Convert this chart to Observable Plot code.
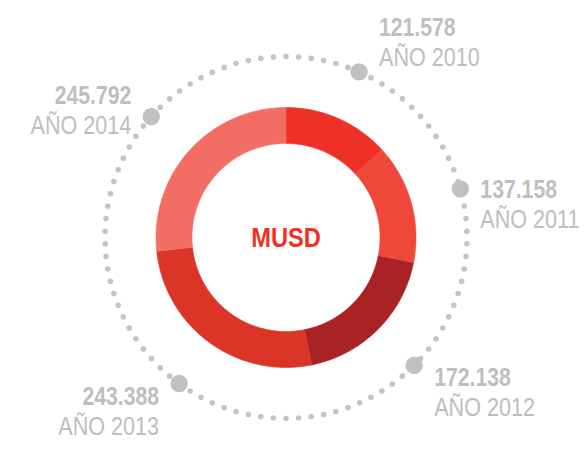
<!DOCTYPE html>
<html>
<head>
<meta charset="utf-8">
<script src="https://cdn.jsdelivr.net/npm/d3@7"></script>
<script src="https://cdn.jsdelivr.net/npm/@observablehq/plot@0.6"></script>
<style>
  html, body { margin: 0; padding: 0; background: #ffffff; }
</style>
</head>
<body>
<div id="chart"></div>
<script>
// ---- data ----
const years = ["2010", "2011", "2012", "2013", "2014"];
const values = [121578, 137158, 172138, 243388, 245792];
const yearPrefix = "AÑO";
const centerLabel = "MUSD";

// ---- styles / layout (not data) ----
const sliceColors = ["#EE3124", "#EF473A", "#A92226", "#DA3527", "#F26E65"];
const W = 587, H = 450, cx = 285.5, cy = 237;
const R_OUT = 130, R_IN = 94, R_RING = 181;
const GRAY = "#BEBEBE";
const FONT = "'Liberation Sans', Arial, sans-serif";

const fmt = d3.formatLocale({decimal: ",", thousands: ".", grouping: [3], currency: ["", ""]}).format(",d");

const arcs = d3.pie().sort(null).value(d => d)(values);

// slice polygons (angles clockwise from 12 o'clock)
const polar = (r, a) => ({x: r * Math.sin(a), y: r * Math.cos(a)});
const slicePts = [];
arcs.forEach((a, i) => {
  const n = Math.max(8, Math.ceil((a.endAngle - a.startAngle) / 0.01));
  for (let k = 0; k <= n; k++) {
    const t = a.startAngle + (a.endAngle - a.startAngle) * k / n;
    slicePts.push({year: years[i], ...polar(R_OUT, t)});
  }
  for (let k = n; k >= 0; k--) {
    const t = a.startAngle + (a.endAngle - a.startAngle) * k / n;
    slicePts.push({year: years[i], ...polar(R_IN, t)});
  }
});

// dotted ring
const ringPts = d3.range(0, 1441).map(k => polar(R_RING, (k / 1440) * 2 * Math.PI));
const gap = 2 * Math.PI * R_RING / 90;

// marker dots at slice mid-angles, labels placed beside them
const markers = arcs.map((a, i) => {
  const m = (a.startAngle + a.endAngle) / 2;
  const p = polar(R_RING, m);
  const side = Math.sin(m) >= 0 ? 1 : -1;
  const c = Math.cos(m);
  const off = 4 - 58 * Math.max(0, c) * Math.max(0, c) + 11 * Math.max(0, -c); // pixel offset of first line centre
  const numBase = p.y - off - 9;          // baseline (data units: up positive)
  return {
    year: years[i], value: values[i], x: p.x, y: p.y, side,
    tx: p.x + side * 20,
    numY: numBase,
    yearY: numBase - 30,
    num: fmt(values[i]),
    lab: `${yearPrefix} ${years[i]}`
  };
});
const right = markers.filter(d => d.side > 0);
const left = markers.filter(d => d.side < 0);

const chart = Plot.plot({
  width: W, height: H,
  margin: 0,
  x: {domain: [-cx, W - cx], axis: null},
  y: {domain: [cy - H, cy], axis: null},
  color: {domain: years, range: sliceColors},
  style: {fontFamily: FONT, background: "#ffffff"},
  marks: [
    Plot.line(ringPts, {x: "x", y: "y", stroke: "#C4C4C4", strokeWidth: 5.6,
      strokeLinecap: "round", strokeDasharray: `0 ${gap}`}),
    Plot.line(slicePts, {x: "x", y: "y", z: "year", fill: "year", stroke: "year", strokeWidth: 0.6}),
    Plot.dot(markers, {x: "x", y: "y", r: 8.7, fill: "#C0C0C0", stroke: null}),
    Plot.text(right, {x: "tx", y: "numY", text: "num", textAnchor: "start", lineAnchor: "bottom",
      fontSize: 26.5, fontWeight: "bold", fill: GRAY, fontFamily: FONT, className: "cnd-b"}),
    Plot.text(right, {x: "tx", y: "yearY", text: "lab", textAnchor: "start", lineAnchor: "bottom",
      fontSize: 26, fill: GRAY, fontFamily: FONT, className: "cnd-r"}),
    Plot.text(left, {x: "tx", y: "numY", text: "num", textAnchor: "end", lineAnchor: "bottom",
      fontSize: 26.5, fontWeight: "bold", fill: GRAY, fontFamily: FONT, className: "cnd-b"}),
    Plot.text(left, {x: "tx", y: "yearY", text: "lab", textAnchor: "end", lineAnchor: "bottom",
      fontSize: 26, fill: GRAY, fontFamily: FONT, className: "cnd-r"}),
    Plot.text([centerLabel], {x: () => 0, y: () => 0, text: d => d, textAnchor: "middle", lineAnchor: "middle",
      fontSize: 28.5, fontWeight: "bold", fill: "#EE3124", fontFamily: FONT, className: "cnd-m"})
  ]
});
document.getElementById("chart").appendChild(chart);
// condense the type (reference uses a condensed face)
const factors = {"cnd-b": 0.8, "cnd-r": 0.83, "cnd-m": 0.83};
Object.entries(factors).forEach(([cls, f]) => {
  chart.querySelectorAll(`.${cls} text, text.${cls}`).forEach(t => {
    const L = t.getComputedTextLength();
    if (L > 0) {
      t.setAttribute("textLength", (L * f).toFixed(2));
      t.setAttribute("lengthAdjust", "spacingAndGlyphs");
    }
  });
});
</script>
</body>
</html>
